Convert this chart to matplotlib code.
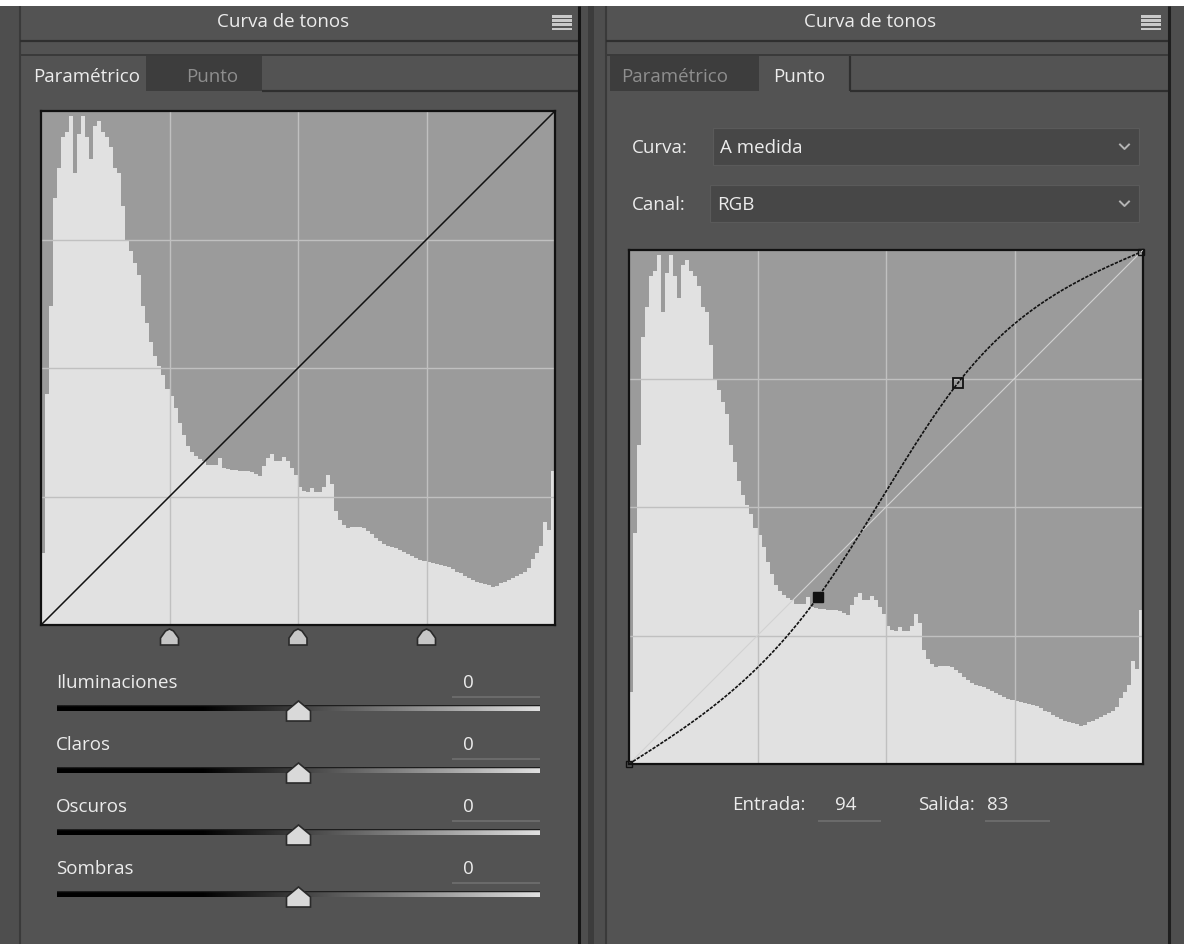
import numpy as np
import matplotlib.pyplot as plt
from matplotlib.patches import Rectangle, Polygon

plt.rcParams['font.family'] = ['Open Sans', 'DejaVu Sans']

W, H = 1184, 945

############ datos ############
# histograma: 128 clases sobre 0-255, altura en % del grafico
hist_vals = [14, 45, 62, 83, 89, 95, 96, 99, 88, 95.6, 99, 95, 90.6, 97, 98, 96,
             95, 93, 89, 88, 81.5, 74.8, 72.8, 70.5, 68, 62, 58.7, 55, 52.3, 50.3, 48.7, 46,
             44.6, 42.3, 39.3, 36.9, 34.9, 33.6, 32.9, 32.2, 31.9, 31.2, 31.1, 31.1, 32.5, 30.5, 30.4, 30.2,
             30.2, 30, 29.9, 29.9, 29.7, 29.3, 29, 30.9, 32.5, 33.2, 32, 31.9, 32.7, 32, 30.5, 29.2,
             26.8, 26, 25.8, 26.6, 25.8, 25.8, 26.8, 29.2, 27.5, 22.1, 20.5, 19.5, 18.9, 19, 19.1, 19.1,
             18.8, 18.3, 17.8, 17, 16.3, 15.8, 15.4, 15.1, 14.9, 14.6, 14.2, 13.8, 13.4, 13, 12.7, 12.4,
             12.3, 12.1, 11.9, 11.7, 11.5, 11.3, 10.9, 10.4, 10.1, 9.6, 9.2, 8.7, 8.3, 8.1, 7.9, 7.7,
             7.4, 7.6, 8.1, 8.4, 8.7, 9.1, 9.5, 9.9, 10.3, 11.1, 12.8, 14.1, 15.4, 20.1, 18.5, 29.9]
hist_edges = np.linspace(0, 256, len(hist_vals) + 1)

# puntos de la curva (pestaña Punto)
curve_in = [0, 94, 164, 255]
curve_out = [0, 83, 190, 255]
sel = 1  # punto seleccionado

split_points = [64, 128, 192]
slider_labels = ['Iluminaciones', 'Claros', 'Oscuros', 'Sombras']
slider_values = [0, 0, 0, 0]

title = 'Curva de tonos'
tab_names = ['Paramétrico', 'Punto']

############ colores ############
BG = '#535353'
TAB_OFF = '#3d3d3d'
LINE = '#333333'
TXT = '#ececec'
TXT_DIM = '#8e8e8e'
FS = 13.5


def natural_spline(xs, ys, xq):
    xs = np.asarray(xs, float)
    ys = np.asarray(ys, float)
    n = len(xs)
    h = np.diff(xs)
    A = np.zeros((n, n))
    r = np.zeros(n)
    A[0, 0] = A[-1, -1] = 1
    for i in range(1, n - 1):
        A[i, i - 1] = h[i - 1]
        A[i, i] = 2 * (h[i - 1] + h[i])
        A[i, i + 1] = h[i]
        r[i] = 6 * ((ys[i + 1] - ys[i]) / h[i] - (ys[i] - ys[i - 1]) / h[i - 1])
    M = np.linalg.solve(A, r)
    idx = np.clip(np.searchsorted(xs, xq) - 1, 0, n - 2)
    x0, x1 = xs[idx], xs[idx + 1]
    hh = x1 - x0
    a = (x1 - xq) / hh
    b = (xq - x0) / hh
    return a * ys[idx] + b * ys[idx + 1] + ((a**3 - a) * M[idx] + (b**3 - b) * M[idx + 1]) * hh**2 / 6


fig = plt.figure(figsize=(W / 100, H / 100), dpi=100)
fig.patch.set_facecolor('white')
ui = fig.add_axes([0, 0, 1, 1])
ui.set_xlim(0, W)
ui.set_ylim(H, 0)
ui.axis('off')


def rect(x0, y0, x1, y1, c, z=1):
    ui.add_patch(Rectangle((x0, y0), x1 - x0, y1 - y0, facecolor=c, edgecolor='none', zorder=z))


def hline(x0, x1, y, c=LINE, lw=1.2, z=3):
    ui.plot([x0, x1], [y, y], color=c, lw=lw, zorder=z, solid_capstyle='butt')


def vline(x, y0, y1, c=LINE, lw=1.2, z=3):
    ui.plot([x, x], [y0, y1], color=c, lw=lw, zorder=z, solid_capstyle='butt')


def menu_icon(x0, y0):
    for k in range(4):
        rect(x0, y0 + k * 4.2, x0 + 20, y0 + k * 4.2 + 2.6, '#c9c9c9', z=4)


# marco general
rect(0, 7, W, H, '#4e4e4e')
rect(20, 7, 579, H, BG)
rect(606, 7, 1168, H, BG)
vline(19.5, 7, H, '#3a3a3a', 1.5)
vline(579, 7, H, '#151515', 2.2)
rect(588, 7, 594, H, '#3c3c3c')
vline(605.5, 7, H, '#3a3a3a', 1.5)
vline(1169, 7, H, '#1e1e1e', 2.2)

for x0, x1, cx, mx in [(20, 578, 283, 552), (606, 1168, 870, 1141)]:
    ui.text(cx, 22, title, color=TXT, fontsize=FS, ha='center', va='center')
    menu_icon(mx, 16)
    hline(x0, x1, 42, '#2f2f2f', 1.6)
    hline(x0, x1, 55.5, '#3a3a3a', 1.4)

# pestañas panel izquierdo (Paramétrico activo)
rect(146, 57, 262, 92, TAB_OFF, z=2)
hline(262, 578, 92, '#2f2f2f', 1.6)
ui.text(33, 77, tab_names[0], color=TXT, fontsize=FS, va='center')
ui.text(186, 77, tab_names[1], color=TXT_DIM, fontsize=FS, va='center')

# pestañas panel derecho (Punto activo)
rect(610, 57, 759, 92, TAB_OFF, z=2)
vline(850, 57, 92, '#2f2f2f', 1.6)
hline(850, 1168, 92, '#2f2f2f', 1.6)
ui.text(621, 77, tab_names[0], color=TXT_DIM, fontsize=FS, va='center')
ui.text(773, 77, tab_names[1], color=TXT, fontsize=FS, va='center')

# desplegables
for lab, val, y0, bx in [('Curva:', 'A medida', 129, 713), ('Canal:', 'RGB', 186, 710)]:
    ui.text(632, y0 + 19, lab, color=TXT, fontsize=FS, va='center')
    ui.add_patch(Rectangle((bx, y0), 1139 - bx, 37, facecolor='#474747',
                           edgecolor='#5a5a5a', lw=0.8, zorder=2))
    ui.text(bx + 7, y0 + 19, val, color=TXT, fontsize=FS, va='center', zorder=3)
    cy = y0 + 19
    ui.plot([1120, 1124.5, 1129], [cy - 2.5, cy + 2, cy - 2.5], color='#b5b5b5', lw=1.4, zorder=3)

# divisiones bajo el histograma
L0, T0, S = 41, 112, 514
for g in split_points:
    px = L0 + g / 256 * S
    tri = [(px - 9, 646), (px + 9, 646), (px + 9, 639), (px + 4, 632), (px, 630),
           (px - 4, 632), (px - 9, 639)]
    ui.add_patch(Polygon(tri, closed=True, facecolor='#c6c6c6', edgecolor='#2a2a2a', lw=1.2, zorder=3))

# deslizadores
grad = np.concatenate([np.zeros(150), np.linspace(0, 0.5, 200), np.linspace(0.5, 0.88, 150)])
track = np.vstack([np.full(grad.size, 0.12)] + [grad] * 4)
tx0, tx1 = 57, 540
for i, (lab, v) in enumerate(zip(slider_labels, slider_values)):
    ty = 707 + i * 62
    ui.text(56, ty - 24, lab, color=TXT, fontsize=FS, va='center')
    ui.text(463, ty - 24, str(v), color=TXT, fontsize=FS, va='center')
    hline(452, 540, ty - 9, '#6f6f6f', 1.2)
    ui.imshow(track, cmap='gray', vmin=0, vmax=1, extent=(tx0, tx1, ty + 5, ty - 1),
              aspect='auto', interpolation='bilinear', zorder=3)
    px = tx0 + (v + 100) / 200 * (tx1 - tx0)
    th = [(px - 12, ty + 15), (px + 12, ty + 15), (px + 12, ty + 5), (px, ty - 5), (px - 12, ty + 5)]
    ui.add_patch(Polygon(th, closed=True, facecolor='#d9d9d9', edgecolor='#2a2a2a', lw=1.2, zorder=4))

# Entrada / Salida
ui.text(805, 805, 'Entrada:', color=TXT, fontsize=FS, va='center', ha='right')
ui.text(835, 805, str(curve_in[sel]), color=TXT, fontsize=FS, va='center')
hline(818, 881, 822, '#6f6f6f', 1.2)
ui.text(975, 805, 'Salida:', color=TXT, fontsize=FS, va='center', ha='right')
ui.text(987, 805, str(curve_out[sel]), color=TXT, fontsize=FS, va='center')
hline(985, 1050, 822, '#6f6f6f', 1.2)
ui.set_xlim(0, W)
ui.set_ylim(H, 0)


def hist_axes(x0, y0):
    ax = fig.add_axes([x0 / W, 1 - (y0 + S) / H, S / W, S / H])
    ax.set_facecolor('#9b9b9b')
    ax.stairs(np.array(hist_vals) * 2.56, hist_edges, fill=True, color='#e1e1e1', zorder=1)
    for g in split_points:
        ax.axvline(g, color='#c0c0c0', lw=1, zorder=2)
        ax.axhline(g, color='#c0c0c0', lw=1, zorder=2)
    ax.set_xlim(0, 256)
    ax.set_ylim(0, 256)
    ax.set_xticks([])
    ax.set_yticks([])
    for sp in ax.spines.values():
        sp.set_color('#111111')
        sp.set_linewidth(1.6)
    return ax


axL = hist_axes(L0, T0)
axL.plot([0, 256], [0, 256], color='#111111', lw=1.1, zorder=3)

axR = hist_axes(629, 251)
axR.plot([0, 256], [0, 256], color='#d2d2d2', lw=0.8, zorder=3)
xq = np.linspace(0, 255, 400)
yq = np.clip(natural_spline(curve_in, curve_out, xq), 0, 255)
axR.plot(xq, yq, color='#111111', lw=1.2, ls=(0, (2, 0.8)), zorder=4)
for i, (a, b) in enumerate(zip(curve_in, curve_out)):
    if i == sel:
        axR.plot(a, b, 's', ms=6.5, mfc='#111111', mec='#111111', zorder=5)
    elif i in (0, len(curve_in) - 1):
        axR.plot(a, b, 's', ms=4.5, mfc='none', mec='#111111', mew=1, zorder=5, clip_on=False)
    else:
        axR.plot(a, b, 's', ms=7, mfc='none', mec='#111111', mew=1.3, zorder=5)

fig.savefig('out.png', dpi=100, facecolor='white')
